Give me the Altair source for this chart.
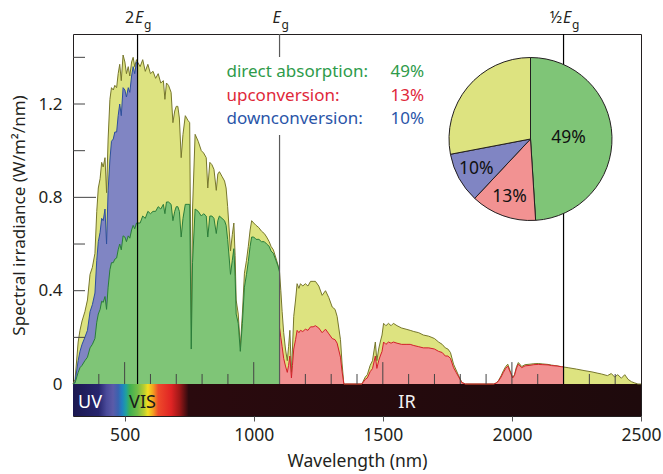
import altair as alt
import pandas as pd

# ---------------- data ----------------
# 300-1100 nm grid: total spectrum and direct-absorption part
wl_vis = [300, 308, 320, 327, 335, 346, 356, 366, 375, 385, 392, 398, 405, 411, 417, 424, 430, 436, 443, 449,
          456, 462, 469, 475, 481, 487, 494, 501, 507, 514, 520, 527, 533, 539, 546, 550,
          560, 570, 580, 590, 600, 610, 620, 630, 640, 650,
          656, 662, 670, 680, 687, 694, 700, 706, 712, 719,
          726, 735, 745, 752, 758, 763, 773, 785, 797, 806,
          816, 822, 830, 838, 846, 855, 861, 867, 877, 887,
          893, 899, 905, 910, 917, 923, 928, 932, 940, 948,
          956, 964, 972, 979, 986, 992, 1000, 1009, 1020, 1030,
          1041, 1050, 1060, 1067, 1076, 1086, 1094, 1100]
total_vis = [0, 0.02, 0.18, 0.23, 0.27, 0.31, 0.36, 0.47, 0.50, 0.56, 0.74, 0.84, 0.88, 0.95, 0.93, 0.97, 0.82, 1.05, 1.22, 1.27,
             1.26, 1.28, 1.27, 1.33, 1.37, 1.30, 1.41, 1.38, 1.33, 1.36, 1.32, 1.38, 1.40, 1.36, 1.39, 1.38,
             1.36, 1.39, 1.34, 1.37, 1.33, 1.34, 1.31, 1.33, 1.29, 1.30,
             1.22, 1.29, 1.28, 1.25, 1.12, 1.17, 1.19, 1.19, 1.14, 0.97,
             1.07, 1.15, 1.13, 1.12, 0.22, 0.75, 1.07, 1.04, 1.00, 0.99,
             0.97, 0.84, 0.95, 0.94, 0.92, 0.83, 0.90, 0.91, 0.89, 0.87,
             0.84, 0.76, 0.66, 0.57, 0.64, 0.69, 0.55, 0.36, 0.30, 0.16,
             0.30, 0.475, 0.53, 0.59, 0.66, 0.70, 0.69, 0.68, 0.67, 0.655,
             0.645, 0.63, 0.61, 0.59, 0.575, 0.54, 0.51, 0.48]
direct_vis = [0, 0.005, 0.05, 0.07, 0.08, 0.10, 0.115, 0.155, 0.17, 0.195, 0.265, 0.30, 0.32, 0.355, 0.35, 0.375, 0.32, 0.415, 0.49, 0.52,
              0.52, 0.535, 0.54, 0.575, 0.60, 0.575, 0.635, 0.63, 0.61, 0.635, 0.625, 0.66, 0.68, 0.665, 0.69, 0.69,
              0.69, 0.72, 0.71, 0.74, 0.73, 0.74, 0.74, 0.76, 0.75, 0.77,
              0.73, 0.78, 0.78, 0.77, 0.70, 0.74, 0.76, 0.76, 0.74, 0.63,
              0.71, 0.77, 0.77, 0.77, 0.15, 0.52, 0.75, 0.74, 0.72, 0.73,
              0.72, 0.63, 0.72, 0.72, 0.71, 0.645, 0.70, 0.72, 0.71, 0.70,
              0.68, 0.62, 0.54, 0.47, 0.53, 0.58, 0.46, 0.30, 0.26, 0.14,
              0.26, 0.415, 0.47, 0.525, 0.59, 0.63, 0.63, 0.62, 0.62, 0.61,
              0.61, 0.60, 0.59, 0.57, 0.56, 0.53, 0.505, 0.48]
# 300-550 nm: downconversion part
wl_down = wl_vis[:36]
down_vis = [0, 0.01, 0.10, 0.14, 0.17, 0.20, 0.23, 0.31, 0.34, 0.39, 0.53, 0.61, 0.65, 0.71, 0.70, 0.75, 0.60, 0.83, 0.96, 1.04,
            1.05, 1.08, 1.08, 1.15, 1.20, 1.15, 1.27, 1.26, 1.23, 1.27, 1.25, 1.32, 1.36, 1.33, 1.38, 1.38]
# 1105-2500 nm: total spectrum
wl_ir = [1105, 1110, 1116, 1123, 1130, 1135, 1140, 1146, 1150, 1155,
         1162, 1168, 1175, 1181, 1190, 1200, 1210, 1220, 1230, 1239,
         1252, 1265, 1278, 1291, 1304, 1315, 1323, 1336, 1342, 1349,
         1355, 1400, 1419, 1432, 1440, 1451, 1460, 1471, 1477, 1484,
         1490, 1497, 1503, 1512, 1522, 1532, 1541, 1555, 1573, 1590,
         1606, 1620, 1639, 1657, 1678, 1700, 1716, 1730, 1742, 1752,
         1762, 1774, 1784, 1794, 1806, 1820, 1900, 1929, 1940, 1948,
         1958, 1967, 1976, 1984, 1993, 2003, 2010, 2018, 2025, 2038,
         2051, 2070, 2085, 2102, 2120, 2140, 2154, 2175, 2192, 2200,
         2218, 2250, 2283, 2310, 2330, 2347, 2370, 2385, 2398, 2410,
         2424, 2437, 2450, 2463, 2475, 2488, 2500]
total_ir = [0.40, 0.31, 0.22, 0.15, 0.10, 0.16, 0.23, 0.05, 0.15, 0.29,
            0.36, 0.43, 0.41, 0.43, 0.42, 0.43, 0.42, 0.44, 0.44, 0.44,
            0.42, 0.38, 0.40, 0.37, 0.33, 0.32, 0.29, 0.19, 0.09, 0.0,
            0.0, 0.0, 0.0, 0.03, 0.04, 0.08, 0.10, 0.18, 0.10, 0.15,
            0.18, 0.21, 0.26, 0.25, 0.26, 0.25, 0.26, 0.25, 0.24, 0.235,
            0.23, 0.225, 0.22, 0.21, 0.205, 0.195, 0.18, 0.17, 0.155, 0.15,
            0.135, 0.085, 0.06, 0.035, 0.007, 0.0, 0.0, 0.0, 0.005, 0.015,
            0.035, 0.057, 0.075, 0.085, 0.057, 0.028, 0.04, 0.075, 0.092, 0.075,
            0.083, 0.085, 0.087, 0.088, 0.086, 0.084, 0.081, 0.078, 0.074, 0.073,
            0.07, 0.064, 0.057, 0.052, 0.047, 0.043, 0.036, 0.045, 0.03, 0.04,
            0.025, 0.04, 0.02, 0.01, 0.005, 0.0, 0.0]
# 1100-2200 nm: upconversion part
wl_up = [1100] + wl_ir[:90]
up_ir = [0.24, 0.20, 0.16, 0.11, 0.077, 0.05, 0.08, 0.12, 0.026, 0.08, 0.15,
         0.19, 0.23, 0.22, 0.23, 0.225, 0.235, 0.23, 0.245, 0.245, 0.25,
         0.24, 0.22, 0.235, 0.215, 0.195, 0.19, 0.175, 0.115, 0.055, 0.0,
         0.0, 0.0, 0.0, 0.02, 0.026, 0.053, 0.066, 0.12, 0.067, 0.10,
         0.12, 0.14, 0.18, 0.17, 0.18, 0.175, 0.18, 0.175, 0.17, 0.17,
         0.17, 0.165, 0.16, 0.155, 0.155, 0.15, 0.14, 0.135, 0.12, 0.12,
         0.11, 0.07, 0.05, 0.03, 0.006, 0.0, 0.0, 0.0, 0.004, 0.013,
         0.03, 0.05, 0.067, 0.077, 0.052, 0.026, 0.037, 0.069, 0.085, 0.07,
         0.078, 0.08, 0.083, 0.084, 0.083, 0.082, 0.079, 0.077, 0.074, 0.073]

pie_names = ["direct absorption", "upconversion", "downconversion", "unused"]
pie_share = [49, 13, 10, 28]
pie_labels = ["49%", "13%", "10%", ""]

legend_names = ["direct absorption:", "upconversion:", "downconversion:"]
legend_pct = ["49%", "13%", "10%"]

band_wl = [550, 1100, 2200]
band_prefix = ["2", "", "\u00bd"]

x_ticks_major = [500, 1000, 1500, 2000]
x_ticks_minor = [400, 600, 700, 800, 900, 1200, 1300, 1400, 1600, 1700, 1800, 1900, 2100, 2300, 2400]
y_ticks_short = [0.2, 0.4, 0.6, 1.0, 1.2, 1.4]
y_ticks_long = [0.8]

band_names = ["UV", "VIS", "IR"]

# rainbow strip colour stops (wavelength, colour)
spec_wl = [300, 400, 430, 455, 475, 490, 505, 520, 550, 575, 590, 610, 630, 680, 712, 748, 2500]
spec_col = ["#1b1850", "#27256e", "#4a4a9a", "#5b5ba8", "#3a62b0", "#2080c0", "#1fa0a0", "#40b050",
            "#72bd48", "#b8cd30", "#f2df20", "#f4a020", "#ee4a2a", "#e02424", "#a01818", "#2a0a0e", "#1e0a0c"]

# ---------------- styles ----------------
YELLOW, OLIVE = "#dde380", "#77772c"
BLUE, BLUE_L = "#8085c3", "#2d4f9e"
GREEN, GREEN_L = "#7fc577", "#2a7d3a"
RED, RED_L = "#f29292", "#d2202a"
INK = "#231f20"
FONT = "Noto Sans"

XS = alt.Scale(domain=[300, 2500], nice=False, zero=False)
YS = alt.Scale(domain=[-0.137, 1.5], nice=False, zero=False)
AX = alt.Axis(title="Wavelength (nm)", values=[500, 1000, 1500, 2000, 2500], format="d", grid=False,
              domain=False, tickSize=5, tickColor="#555555", labelPadding=5, titlePadding=9,
              labelFlush=False, labelFontSize=17.5, titleFontSize=17.5)
AY = alt.Axis(title="Spectral irradiance (W/m\u00b2/nm)", values=[0, 0.4, 0.8, 1.2],
              labelExpr="datum.value == 0 ? '0' : format(datum.value, '.1f')", grid=False,
              domain=False, ticks=False, labelPadding=11, titlePadding=9, titleY=181,
              labelFontSize=17, titleFontSize=17)


def ex():
    return alt.X("wl:Q", scale=XS, axis=AX)


def ey():
    return alt.Y("v:Q", scale=YS, axis=AY)


def ydat(val):
    return alt.Y(datum=val, scale=YS, axis=AY)


layers = []

# rainbow strip
bar_df = pd.DataFrame({"wl": [spec_wl[0]], "wl2": [spec_wl[-1]], "v": [YS.domain[0]], "v2": [0]})
grad = alt.Gradient(gradient="linear", x1=0, x2=1, y1=0, y2=0,
                    stops=[alt.GradientStop(offset=(w - 300) / 2200, color=c) for w, c in zip(spec_wl, spec_col)])
layers.append(alt.Chart(bar_df).mark_rect(fill=grad).encode(x=ex(), x2="wl2:Q", y=ey(), y2="v2:Q"))


def area(wl, vals, fill, stroke):
    df = pd.DataFrame({"wl": wl, "v": vals})
    return alt.Chart(df).mark_area(fill=fill, fillOpacity=1, interpolate="linear",
                                   line={"color": stroke, "stroke": stroke, "strokeWidth": 1}).encode(
        x=ex(), y=ey(), y2=alt.Y2(datum=0))


layers.append(area(wl_vis + wl_ir, total_vis + total_ir, YELLOW, OLIVE))
layers.append(area(wl_down, down_vis, BLUE, BLUE_L))
layers.append(area(wl_vis, direct_vis, GREEN, GREEN_L))
layers.append(area(wl_up, up_ir, RED, RED_L))

# inner ticks
layers.append(alt.Chart(pd.DataFrame({"wl": x_ticks_major})).mark_rule(color="#444444", strokeWidth=1).encode(
    x=ex(), y=ydat(0), y2=alt.Y2(datum=0.094)))
layers.append(alt.Chart(pd.DataFrame({"wl": x_ticks_minor})).mark_rule(color="#444444", strokeWidth=1).encode(
    x=ex(), y=ydat(0), y2=alt.Y2(datum=0.043)))
layers.append(alt.Chart(pd.DataFrame({"v": y_ticks_short})).mark_rule(color="#444444", strokeWidth=1).encode(
    y=ey(), x=alt.value(0), x2=alt.value(12)))
layers.append(alt.Chart(pd.DataFrame({"v": y_ticks_long})).mark_rule(color="#444444", strokeWidth=1).encode(
    y=ey(), x=alt.value(0), x2=alt.value(23)))

# band-gap lines
band_df = pd.DataFrame({"wl": band_wl})
layers.append(alt.Chart(band_df).transform_filter("datum.wl != 1100").mark_rule(color="#000000", strokeWidth=1.2).encode(
    x=ex(), y=ydat(0), y2=alt.Y2(datum=1.5)))
layers.append(alt.Chart(band_df).transform_filter("datum.wl == 1100").mark_rule(color="#5a5a5a", strokeWidth=1.2).encode(
    x=ex(), y=ydat(0), y2=alt.Y2(datum=1.5)))

one = pd.DataFrame({"a": [0]})

# legend box + texts
layers.append(alt.Chart(one).mark_rect(fill="white").encode(
    x=alt.value(147), x2=alt.value(358), y=alt.value(23), y2=alt.value(101)))
leg_cols = ["#2e9b4a", "#e0283a", "#2a55a8"]
for i, (nm, pc) in enumerate(zip(legend_names, legend_pct)):
    layers.append(alt.Chart(one).mark_text(text=nm, align="left", baseline="alphabetic", fontSize=17,
                                           font=FONT, color=leg_cols[i]).encode(
        x=alt.value(153.5), y=alt.value(43 + 23.5 * i)))
    layers.append(alt.Chart(one).mark_text(text=pc, align="left", baseline="alphabetic", fontSize=17,
                                           font=FONT, color=leg_cols[i]).encode(
        x=alt.value(317.5), y=alt.value(43 + 23.5 * i)))

# pie
pie_df = pd.DataFrame({"name": pie_names, "share": pie_share, "label": pie_labels, "idx": list(range(len(pie_names)))})
PX, PY = 457.5, 105
layers.append(alt.Chart(pie_df).mark_arc(radius=81.5, stroke=INK, strokeWidth=1).encode(
    theta=alt.Theta("share:Q", stack=True),
    color=alt.Color("name:N", scale=alt.Scale(domain=pie_names, range=[GREEN, RED, BLUE, YELLOW]), legend=None),
    order=alt.Order("idx:Q"),
    x=alt.value(PX), y=alt.value(PY)))
layers.append(alt.Chart(pie_df).transform_calculate(t="datum.idx == 0 ? datum.label : ''").mark_text(
    radius=38, fontSize=17.5, font=FONT, color="#111111").encode(
    theta=alt.Theta("share:Q", stack=True), order=alt.Order("idx:Q"), text="t:N",
    x=alt.value(PX), y=alt.value(PY)))
layers.append(alt.Chart(pie_df).transform_calculate(t="datum.idx == 0 ? '' : datum.label").mark_text(
    radius=62, fontSize=17.5, font=FONT, color="#111111").encode(
    theta=alt.Theta("share:Q", stack=True), order=alt.Order("idx:Q"), text="t:N",
    x=alt.value(PX), y=alt.value(PY)))

# top band-gap labels
e_nudge = [1.5, -3, 3.5]
for w, pre, d in zip(band_wl, band_prefix, e_nudge):
    bdf = pd.DataFrame({"wl": [w]})
    layers.append(alt.Chart(bdf).mark_text(text="E", fontStyle="italic", fontSize=16, font=FONT, color=INK,
                                           align="center", baseline="alphabetic", dx=d).encode(
        x=ex(), y=alt.value(-11)))
    layers.append(alt.Chart(bdf).mark_text(text="g", fontSize=12, font=FONT, color=INK,
                                           align="left", baseline="alphabetic", dx=d + 5).encode(
        x=ex(), y=alt.value(-5)))
    if pre:
        layers.append(alt.Chart(bdf).mark_text(text=pre, fontSize=16, font=FONT, color=INK,
                                               align="right", baseline="alphabetic", dx=d - 5).encode(
            x=ex(), y=alt.value(-11)))

# UV / VIS / IR
band_x = [17, 69.5, 334]
band_c = ["#ffffff", "#1a1a1a", "#f2f2f2"]
for nm, bx, bc in zip(band_names, band_x, band_c):
    layers.append(alt.Chart(one).mark_text(text=nm, fontSize=18, font=FONT, color=bc, align="center",
                                           baseline="alphabetic").encode(
        x=alt.value(bx), y=alt.value(373.5)))

chart = alt.layer(*layers).properties(
    width=568, height=382,
    autosize=alt.AutoSizeParams(type="none"),
    padding={"left": 73, "top": 34, "right": 22, "bottom": 58},
).configure(font=FONT).configure_view(stroke=INK, strokeWidth=1).configure_axis(
    labelColor=INK, titleColor=INK, titleFontWeight="normal", labelFont=FONT, titleFont=FONT)

chart.save("out.html", embed_options={"renderer": "svg", "actions": False})
